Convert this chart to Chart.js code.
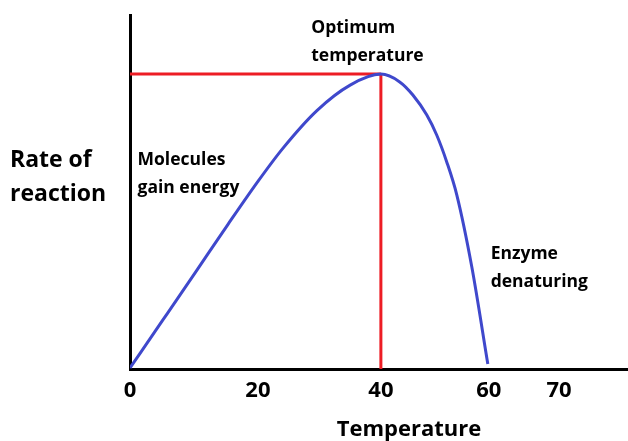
<!DOCTYPE html>
<html>
<head>
<meta charset="utf-8">
<script src="https://cdn.jsdelivr.net/npm/chart.js@4/dist/chart.umd.min.js"></script>
<style>
html,body{margin:0;padding:0;background:#fff;}
#wrap{width:628px;height:441px;position:relative;}
</style>
</head>
<body>
<div id="wrap"><canvas id="c" width="628" height="441"></canvas></div>
<script>
// Temperature axis: positions of the printed tick labels (axis units) and their text
const tickPositions = [0, 20.4, 40, 57.2, 68.4];
const tickLabels = ['0', '20', '40', '60', '70'];
// Rate of reaction curve (x in axis units, y as % of axis height)
const curveX = [0, 5.3, 10.7, 15.6, 20.4, 24.4, 29.8, 35.1, 40, 43.0, 45.1, 47.3, 48.9, 50.5, 52.1, 54.5, 57.05];
const curveY = [0.3, 14.0, 28.0, 40.8, 53.0, 62.4, 73.0, 80.2, 83.3, 81.1, 77.4, 71.8, 66.1, 58.5, 49.2, 28.8, 1.4];
// Optimum marker
const optimumX = 40;
const optimumY = 83.3;
// Annotation texts
const annotations = [
  {lines: ['Optimum', 'temperature'], x: 28.9, y: 96.4},
  {lines: ['Molecules', 'gain energy'], x: 1.2, y: 59.0},
  {lines: ['Enzyme', 'denaturing'], x: 57.5, y: 32.5}
];
const yAxisTitle = ['Rate of', 'reaction'];
const xAxisTitle = 'Temperature';

const FONT = '"Open Sans", "DejaVu Sans", sans-serif';

const textPlugin = {
  id: 'texts',
  afterDraw(chart) {
    const ctx = chart.ctx;
    const xs = chart.scales.x, ys = chart.scales.y;
    ctx.save();
    ctx.fillStyle = '#000';
    ctx.textBaseline = 'middle';
    ctx.textAlign = 'left';
    ctx.font = 'bold 17.5px ' + FONT;
    annotations.forEach(a => {
      const px = xs.getPixelForValue(a.x);
      const py = ys.getPixelForValue(a.y);
      a.lines.forEach((l, i) => ctx.fillText(l, px, py + i * 28));
    });
    ctx.font = 'bold 23px ' + FONT;
    yAxisTitle.forEach((l, i) => ctx.fillText(l, 10, 160 + i * 34));
    ctx.font = 'bold 22px ' + FONT;
    ctx.textAlign = 'center';
    ctx.fillText(xAxisTitle, 409, 430);
    ctx.restore();
  }
};

new Chart(document.getElementById('c'), {
  type: 'line',
  data: {
    datasets: [
      {
        data: curveX.map((x, i) => ({x: x, y: curveY[i]})),
        borderColor: '#3f48cc',
        borderWidth: 3,
        pointRadius: 0,
        cubicInterpolationMode: 'monotone',
        fill: false
      },
      {
        data: [{x: 0, y: optimumY}, {x: optimumX, y: optimumY}],
        borderColor: '#ed1c24',
        borderWidth: 3,
        pointRadius: 0,
        tension: 0
      },
      {
        data: [{x: optimumX, y: 0}, {x: optimumX, y: optimumY}],
        borderColor: '#ed1c24',
        borderWidth: 3,
        pointRadius: 0,
        tension: 0
      }
    ]
  },
  options: {
    responsive: false,
    animation: false,
    devicePixelRatio: 1,
    layout: {padding: {top: 15, right: 0, bottom: 0, left: 0}},
    plugins: {legend: {display: false}, tooltip: {enabled: false}},
    scales: {
      x: {
        type: 'linear',
        min: 0,
        max: 79.4,
        afterFit(s) { s.height = 72; },
        afterBuildTicks(s) { s.ticks = tickPositions.map(v => ({value: v})); },
        grid: {display: false, drawTicks: false},
        border: {display: true, color: '#000', width: 3},
        ticks: {
          autoSkip: false,
          maxRotation: 0,
          padding: 9,
          color: '#000',
          font: {family: FONT, size: 22, weight: 'bold'},
          callback(v) {
            const i = tickPositions.indexOf(v);
            return i >= 0 ? tickLabels[i] : '';
          }
        }
      },
      y: {
        type: 'linear',
        min: 0,
        max: 100,
        afterFit(s) { s.width = 130; },
        grid: {display: false, drawTicks: false},
        border: {display: true, color: '#000', width: 3},
        ticks: {display: false}
      }
    }
  },
  plugins: [textPlugin]
});
</script>
</body>
</html>
